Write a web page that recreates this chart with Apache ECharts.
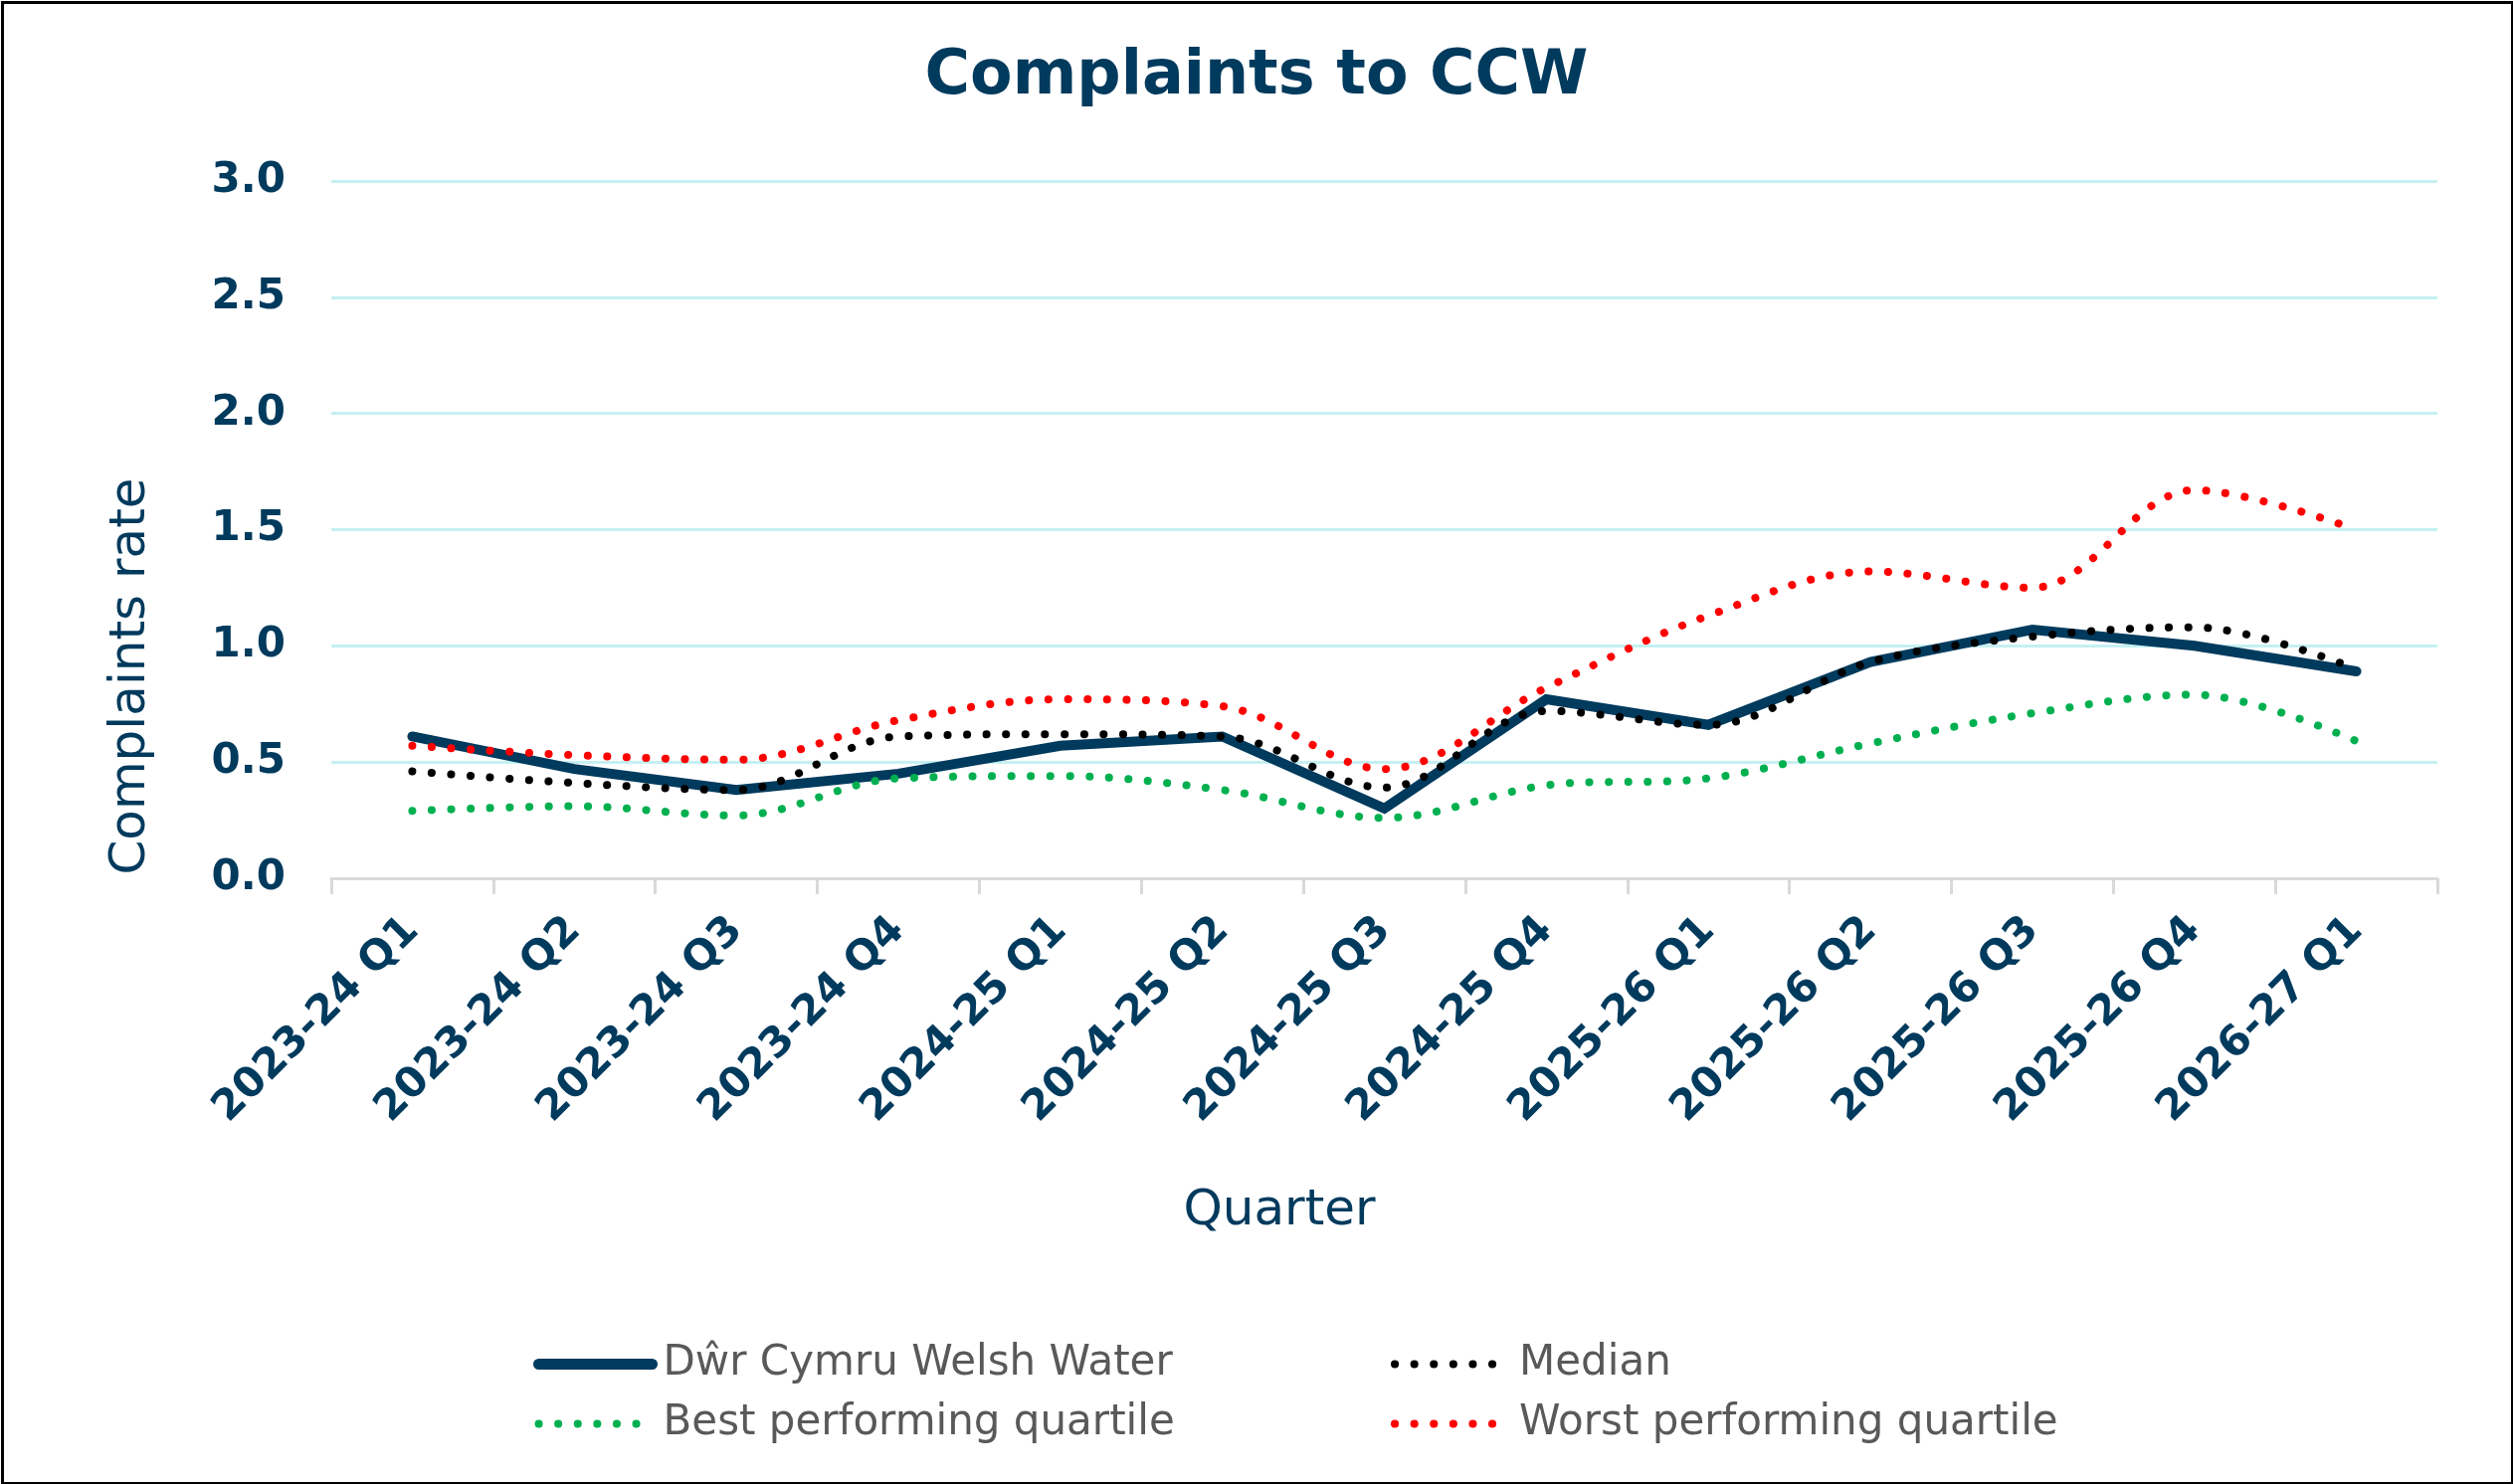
<!DOCTYPE html>
<html>
<head>
<meta charset="utf-8">
<script src="https://cdn.jsdelivr.net/npm/echarts@6/dist/echarts.min.js"></script>
<style>
html, body { margin: 0; padding: 0; background: #fff; }
#chart { width: 2526px; height: 1492px; }
</style>
</head>
<body>
<div id="chart"></div>
<script>
// categories (x axis)
var quarters = ['2023-24 Q1', '2023-24 Q2', '2023-24 Q3', '2023-24 Q4',
	'2024-25 Q1', '2024-25 Q2', '2024-25 Q3', '2024-25 Q4',
	'2025-26 Q1', '2025-26 Q2', '2025-26 Q3', '2025-26 Q4', '2026-27 Q1'];
// series values
var welshWater = [0.61, 0.47, 0.38, 0.45, 0.57, 0.61, 0.30, 0.77, 0.66, 0.93, 1.07, 1.00, 0.89];
var median     = [0.46, 0.41, 0.38, 0.61, 0.62, 0.61, 0.39, 0.72, 0.66, 0.93, 1.04, 1.08, 0.90];
var bestQ      = [0.29, 0.31, 0.27, 0.43, 0.44, 0.38, 0.26, 0.40, 0.43, 0.58, 0.71, 0.79, 0.59];
var worstQ     = [0.57, 0.53, 0.51, 0.68, 0.77, 0.74, 0.47, 0.82, 1.13, 1.32, 1.25, 1.67, 1.50];
var yTicks = [0, 0.5, 1.0, 1.5, 2.0, 2.5, 3.0];

var NAVY = '#003A5D';
var DOT_WIDTH = 8;
var DOT_DASH = [0.1, 19.5];

function dottedSeries(name, data, color) {
	return {
		name: name,
		type: 'line',
		data: data,
		symbol: 'none',
		smooth: 0.35,
		lineStyle: {
			color: color,
			width: DOT_WIDTH,
			type: DOT_DASH,
			cap: 'round'
		},
		itemStyle: { color: color }
	};
}

function legendItem(name, dotted) {
	return {
		name: name,
		itemStyle: { opacity: 0 },
		lineStyle: dotted ? { width: DOT_WIDTH, type: DOT_DASH, cap: 'round' } : { width: 11, type: 'solid', cap: 'round' }
	};
}

var legendText = { fontFamily: 'DejaVu Sans', fontSize: 42, lineHeight: 45, color: '#595959', padding: [0, 0, 0, 6] };

var chart = echarts.init(document.getElementById('chart'));
var option = {
	animation: false,
	backgroundColor: '#fff',
	title: {
		text: 'Complaints to CCW',
		left: 'center',
		top: 42,
		textStyle: {
			fontFamily: 'DejaVu Sans',
			fontWeight: 'bold',
			fontSize: 62,
			color: NAVY
		}
	},
	grid: {
		left: 333,
		right: 76,
		top: 182,
		bottom: 609,
		containLabel: false
	},
	legend: [{
		data: [legendItem('Dŵr Cymru Welsh Water', false), legendItem('Best performing quartile', true)],
		orient: 'vertical',
		left: 531,
		top: 1344,
		itemWidth: 114,
		itemHeight: 22,
		itemGap: 15,
		textStyle: legendText
	}, {
		data: [legendItem('Median', true), legendItem('Worst performing quartile', true)],
		orient: 'vertical',
		left: 1393,
		top: 1344,
		itemWidth: 114,
		itemHeight: 22,
		itemGap: 15,
		textStyle: legendText
	}],
	xAxis: {
		type: 'category',
		data: quarters,
		boundaryGap: true,
		axisLine: { show: true, lineStyle: { color: '#D9D9D9', width: 3 } },
		axisTick: { show: true, length: 16, lineStyle: { color: '#D9D9D9', width: 3 } },
		axisLabel: {
			rotate: 45,
			margin: 46,
			fontFamily: 'DejaVu Sans',
			fontWeight: 'bold',
			fontSize: 42,
			color: NAVY
		}
	},
	yAxis: {
		type: 'value',
		min: yTicks[0],
		max: yTicks[yTicks.length - 1],
		interval: 0.5,
		axisLine: { show: false },
		axisTick: { show: false },
		axisLabel: {
			margin: 46,
			fontFamily: 'DejaVu Sans',
			fontWeight: 'bold',
			fontSize: 42,
			color: NAVY,
			formatter: function (v) { return v.toFixed(1); }
		},
		splitLine: { lineStyle: { color: '#C5F0F2', width: 3 } }
	},
	graphic: [{
		type: 'rect',
		left: 0,
		top: 0,
		shape: { x: 1.5, y: 1.5, width: 2523, height: 1489 },
		style: { fill: 'none', stroke: '#000', lineWidth: 3 },
		silent: true
	}, {
		type: 'text',
		x: 132,
		y: 680,
		rotation: Math.PI / 2,
		style: {
			text: 'Complaints rate',
			fontFamily: 'DejaVu Sans',
			fontSize: 50,
			fill: NAVY,
			align: 'center',
			verticalAlign: 'middle'
		}
	}, {
		type: 'text',
		x: 1286,
		y: 1218,
		style: {
			text: 'Quarter',
			fontFamily: 'DejaVu Sans',
			fontSize: 50,
			fill: NAVY,
			align: 'center',
			verticalAlign: 'middle'
		}
	}],
	series: [{
		name: 'Dŵr Cymru Welsh Water',
		type: 'line',
		data: welshWater,
		symbol: 'none',
		lineStyle: { color: NAVY, width: 10, cap: 'round', join: 'miter' },
		itemStyle: { color: NAVY }
	},
		dottedSeries('Median', median, '#000000'),
		dottedSeries('Best performing quartile', bestQ, '#00B050'),
		dottedSeries('Worst performing quartile', worstQ, '#FF0000')
	]
};
chart.setOption(option);
</script>
</body>
</html>
